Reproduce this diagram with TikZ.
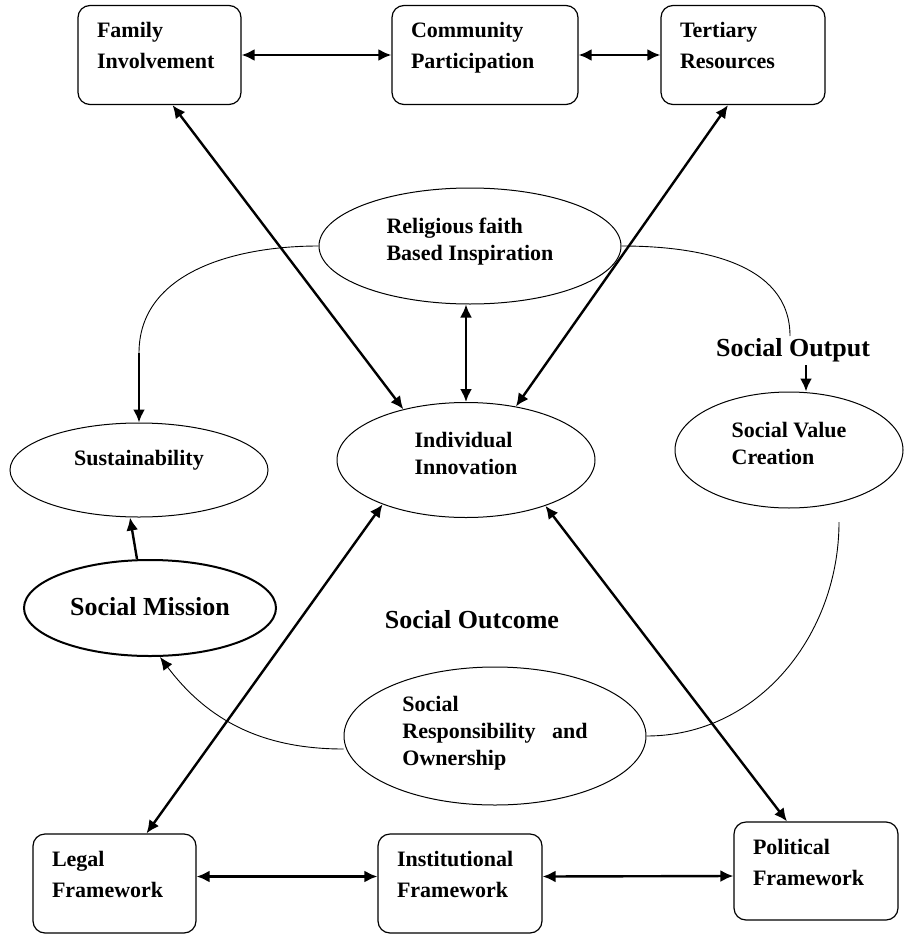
\documentclass[tikz,border=0pt]{standalone}
\usepackage{fontspec}
\setmainfont{Liberation Serif}
\usetikzlibrary{shapes.geometric,arrows.meta}

\begin{document}
\begin{tikzpicture}[x=1pt,y=-1pt]
    \tikzstyle{box}=[rectangle, draw, rounded corners=12pt, line width=1.2pt,
                     minimum height=99pt, inner xsep=19pt, inner ysep=0pt,
                     text height=15pt, text depth=49pt,
                     align=left, font=\fontsize{22}{31}\selectfont\bfseries]
    \tikzstyle{oval}=[ellipse, draw, line width=1pt, inner sep=0pt,
                      align=left, font=\fontsize{22}{27}\selectfont\bfseries]
    \tikzstyle{big}=[font=\fontsize{26}{30}\selectfont\bfseries]
    \tikzstyle{link}=[line width=2.4pt,
                      {Latex[length=13pt,width=12pt]}-{Latex[length=13pt,width=12pt]}]
    \tikzstyle{one}=[line width=2.4pt, -{Latex[length=13pt,width=12pt]}]
    \tikzstyle{flow}=[line width=0.9pt]
    \useasboundingbox (0,0) rectangle (904,934);

    \node[box, text width=125pt] (fam) at (159.5,55) {Family\\Involvement};
    \node[box, text width=148pt] (com) at (485,55) {Community\\Participation};
    \node[box, text width=126pt] (ter) at (743,55) {Tertiary\\Resources};

    \node[oval, minimum width=302pt, minimum height=116pt,
          text height=42pt, text depth=14pt] (rel) at (470,246)
        {Religious faith\\Based Inspiration};
    \node[oval, minimum width=258pt, minimum height=115pt,
          text height=42pt, text depth=14pt] (ind) at (466,460)
        {Individual\\Innovation};
    \node[oval, minimum width=258pt, minimum height=94pt,
          text height=15pt, text depth=25pt] (sus) at (139,470)
        {Sustainability};
    \node[oval, minimum width=228pt, minimum height=116pt,
          text height=42pt, text depth=14pt] (sv) at (789,450)
        {Social Value\\Creation};
    \node[oval, big, line width=2pt, minimum width=252pt, minimum height=96pt,
          text height=20pt, text depth=6pt] (sm) at (150,608) {Social Mission};
    \node[oval, minimum width=302pt, minimum height=138pt,
          text height=70pt, text depth=12pt] (sr) at (495,736)
        {Social\\Responsibility~~~and\\Ownership};

    \node[big] (out) at (793,350) {Social Output};
    \node[big] (oc) at (472,620) {Social Outcome};

    \node[box, text width=125pt] (leg) at (114.5,883.5) {Legal\\Framework};
    \node[box, text width=126pt] (inst) at (460,883.5) {Institutional\\Framework};
    \node[box, text width=126pt, minimum height=98pt] (pol) at (816,871)
        {Political\\Framework};

    \coordinate (c1) at (139,353);
    \coordinate (c2) at (790,336);
    \coordinate (c3) at (839,522);

    \path[link] (fam.east) edge (com.west)
                (com.east) edge (ter.west)
                ([yshift=7pt]leg.east) edge ([yshift=7pt]inst.west)
                ([yshift=7pt]inst.east) edge ([yshift=-5pt]pol.west)
                ([xshift=13pt]fam.south) edge (ind.141)
                ([xshift=-15pt]ter.south) edge (ind.47)
                (ind.north) edge (ind.north |- rel.south)
                ([xshift=32pt]leg.north) edge (ind.208)
                ([xshift=-29pt]pol.north) edge (ind.330);

    \draw[flow] (rel.west) to[out=180,in=90] (c1);
    \draw[one] (c1) -- (sus.north);
    \draw[flow] (rel.east) to[out=0,in=90] (c2);
    \draw[one] ([xshift=13pt]out.south) -- ([xshift=17pt]sv.north);
    \draw[flow] (c3) to[out=-90,in=0] (sr.east);
    \draw[flow, -{Latex[length=13pt,width=11pt]}] ([yshift=-13pt]sr.west)
        to[out=180,in=-53] ([xshift=10pt]sm.south);
    \draw[one] ([xshift=-13pt]sm.north) -- ([xshift=-9pt]sus.south);
\end{tikzpicture}
\end{document}
